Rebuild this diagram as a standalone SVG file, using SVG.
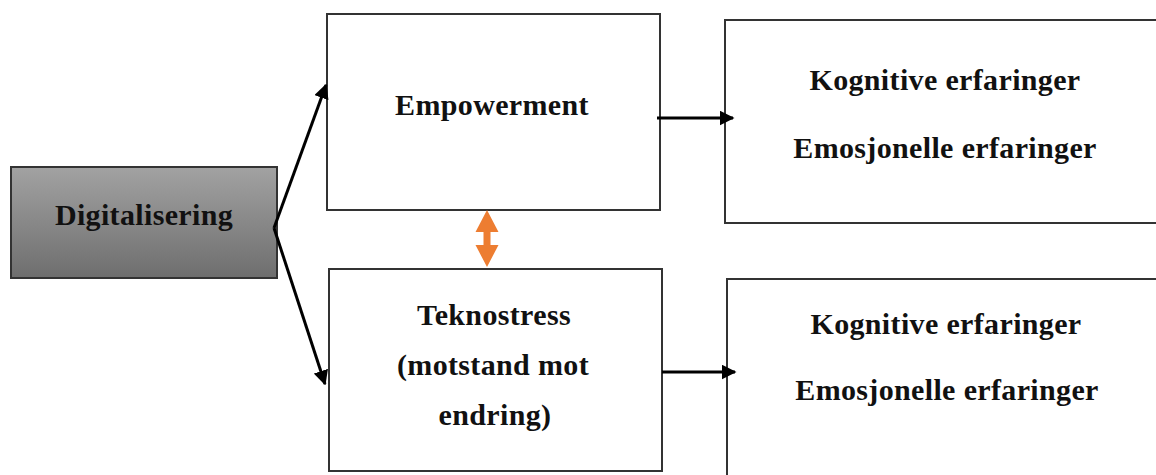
<svg xmlns="http://www.w3.org/2000/svg" width="1156" height="475" viewBox="0 0 1156 475">
<style>
.box{fill:#fff;stroke:#333;stroke-width:2}
.t{font-family:"Liberation Serif","Times New Roman",serif;font-weight:bold;font-size:30px;letter-spacing:0.35px;fill:#111;text-anchor:middle}
.c{stroke:#000;stroke-width:3;fill:none}
</style>
<defs>
<linearGradient id="g" x1="0" y1="0" x2="0" y2="1">
<stop offset="0" stop-color="#a2a2a2"/>
<stop offset="1" stop-color="#6e6e6e"/>
</linearGradient>
<marker id="ah" viewBox="0 0 10 10" refX="9" refY="5" markerWidth="5" markerHeight="5" orient="auto" markerUnits="strokeWidth">
<path d="M0,0 L10,5 L0,10 Z" fill="#000"/>
</marker>
</defs>
<rect width="1156" height="475" fill="#fff"/>
<g id="digitalisering">
<rect x="11" y="167" width="266" height="111" fill="url(#g)" stroke="#333" stroke-width="2"/>
<text class="t" x="144" y="225">Digitalisering</text>
</g>
<g id="empowerment">
<rect class="box" x="327" y="14" width="333" height="196"/>
<text class="t" x="492" y="115">Empowerment</text>
</g>
<g id="teknostress">
<rect class="box" x="329" y="269" width="333" height="202"/>
<text class="t" x="494" y="325">Teknostress</text>
<text class="t" x="493" y="375">(motstand mot</text>
<text class="t" x="495" y="425">endring)</text>
</g>
<g id="erfaringer1">
<rect class="box" x="725" y="20" width="440" height="203"/>
<text class="t" x="945" y="90">Kognitive erfaringer</text>
<text class="t" x="945" y="158">Emosjonelle erfaringer</text>
</g>
<g id="erfaringer2">
<rect class="box" x="727" y="279" width="440" height="210"/>
<text class="t" x="946" y="334">Kognitive erfaringer</text>
<text class="t" x="947" y="400">Emosjonelle erfaringer</text>
</g>
<g id="connectors">
<line class="c" x1="274" y1="228" x2="326" y2="85" marker-end="url(#ah)"/>
<line class="c" x1="274" y1="228" x2="325" y2="384" marker-end="url(#ah)"/>
<line class="c" x1="657" y1="118" x2="733" y2="118" marker-end="url(#ah)"/>
<line class="c" x1="662" y1="372" x2="735" y2="372" marker-end="url(#ah)"/>
<path d="M487,210 L498.5,232 L490.5,232 L490.5,245 L498.5,245 L487,267 L475.5,245 L483.5,245 L483.5,232 L475.5,232 Z" fill="#ED7D31"/>
</g>
</svg>
